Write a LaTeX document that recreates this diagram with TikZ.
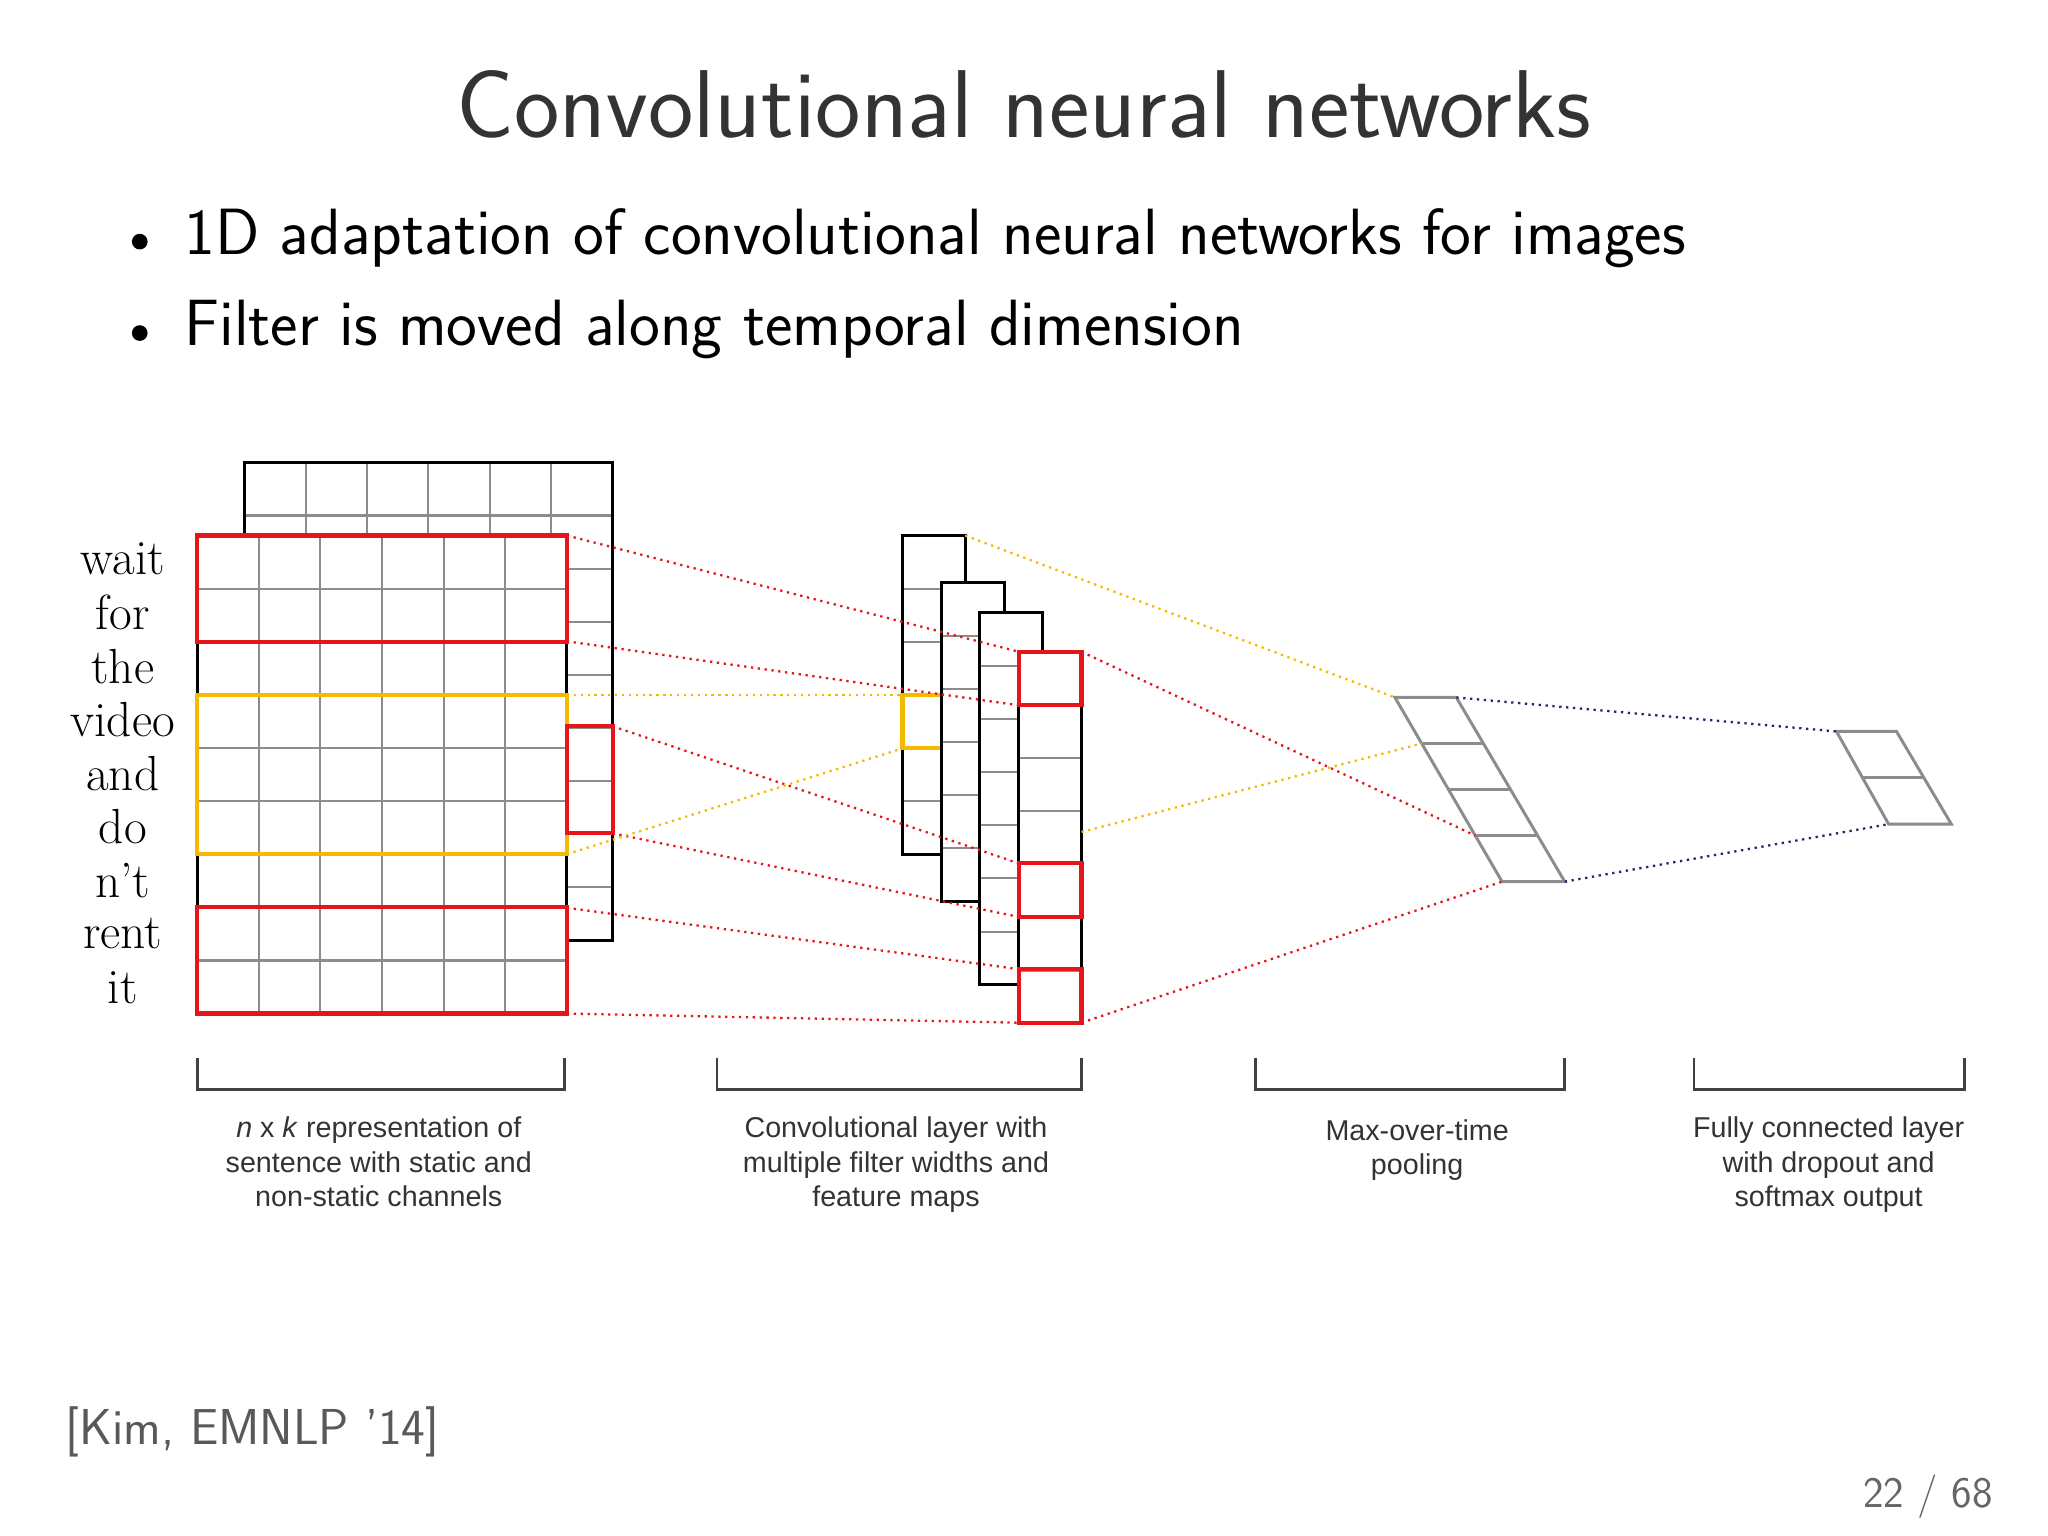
\documentclass[tikz,border=0pt]{standalone}
\usepackage{fontspec}
\newfontfamily\capfont{Liberation Sans}
\usetikzlibrary{calc}
\definecolor{cred}{HTML}{E8141C}
\definecolor{cyel}{HTML}{F5BA00}
\definecolor{cgrid}{HTML}{8C8C8C}
\definecolor{cblue}{HTML}{1A2A6C}
\begin{document}
\begin{tikzpicture}[x=0.02cm,y=-0.02cm,
  gridl/.style={cgrid,line width=0.9pt},
  outer/.style={black,line width=1.3pt},
  redb/.style={cred,line width=1.8pt},
  yelb/.style={cyel,line width=1.8pt},
  rdot/.style={cred,dotted,line width=1pt},
  ydot/.style={cyel,dotted,line width=1pt},
  bdot/.style={cblue,dotted,line width=1pt},
  word/.style={font=\fontsize{21.5}{21.5}\selectfont\rmfamily,anchor=center},
  captext/.style={font=\fontsize{12.5}{15}\selectfont\capfont,align=center,text=black!80,anchor=north},
  brk/.style={black!75,line width=1.2pt}]
\useasboundingbox (0,0) rectangle (1568,1176);
% title and bullets
\node (title) [font=\fontsize{42}{42}\selectfont\sffamily,text=black!80] at (784,80) {Convolutional neural networks};
\fill (107,185) circle (6);
\fill (107,255) circle (6);
\node (b1) [font=\fontsize{28.5}{28.5}\selectfont\sffamily,anchor=west] at (135,182) {1D adaptation of convolutional neural networks for images};
\node (b2) [font=\fontsize{28.5}{28.5}\selectfont\sffamily,anchor=west] at (135,252) {Filter is moved along temporal dimension};
% back grid
\foreach \i in {0,...,9} \draw[gridl] (187,{354+\i*40.67}) -- (469,{354+\i*40.67});
\foreach \j in {1,...,5} \draw[gridl] ({187+\j*47},354) -- ({187+\j*47},410);
\draw[outer] (187,410) -- (187,354) -- (469,354) -- (469,720) -- (434,720);
% front grid
\fill[white] (151,410) rectangle (434,776);
\foreach \i in {1,...,8} \draw[gridl] (151,{410+\i*40.67}) -- (434,{410+\i*40.67});
\foreach \j in {1,...,5} \draw[gridl] ({151+\j*47.17},410) -- ({151+\j*47.17},776);
\draw[outer] (151,410) rectangle (434,776);
\draw[redb] (151,410) rectangle (434,491.3);
\draw[redb] (151,694.7) rectangle (434,776);
\draw[yelb] (151,532) rectangle (434,654);
\draw[redb] (434,556) rectangle (469,638);
% words
\foreach \w [count=\k from 0] in {wait,for,the,video,and,do,n't,rent,it}
  \node (w\k) [word] at (94,{428+\k*41}) {\w};
% feature maps
\def\fmap#1#2#3#4{\fill[white] (#1,#2) rectangle ({#1+48},{#2+#3*40.7});
  \foreach \i in {1,...,#4} \draw[gridl] (#1,{#2+\i*40.7}) -- ({#1+48},{#2+\i*40.7});
  \draw[outer] (#1,#2) rectangle ({#1+48},{#2+#3*40.7});}
\fmap{691}{410}{6}{5}
\draw[yelb] (691,532) rectangle (721,573);
\fmap{721}{446}{6}{5}
\fmap{750}{469}{7}{6}
\fmap{780}{499}{7}{6}
\draw[redb] (780,499) rectangle (828,540);
\draw[redb] (780,661) rectangle (828,702);
\draw[redb] (780,742) rectangle (828,783);
% dotted connectors
\coordinate (a1) at (434,410); \coordinate (a2) at (434,491);
\coordinate (a3) at (469,556); \coordinate (a4) at (469,638);
\coordinate (a5) at (434,695); \coordinate (a6) at (434,776);
\coordinate (y1) at (434,532); \coordinate (y2) at (434,654);
\coordinate (m1) at (780,499); \coordinate (m2) at (780,540);
\coordinate (m3) at (780,661); \coordinate (m4) at (780,702);
\coordinate (m5) at (780,742); \coordinate (m6) at (780,783);
\coordinate (n1) at (691,532); \coordinate (n2) at (691,573);
\draw[rdot] (a1) -- (m1); \draw[rdot] (a2) -- (m2);
\draw[rdot] (a3) -- (m3); \draw[rdot] (a4) -- (m4);
\draw[rdot] (a5) -- (m5); \draw[rdot] (a6) -- (m6);
\draw[ydot] (y1) -- (n1); \draw[ydot] (y2) -- (n2);
% pooling
\coordinate (p1) at (1068,534); \coordinate (p2) at (1115,534);
\coordinate (p3) at (1198,675); \coordinate (p4) at (1150,675);
\draw[cgrid,line width=1.3pt] (p1) -- (p2) -- (p3) -- (p4) -- cycle;
\foreach \t in {0.25,0.5,0.75} \draw[cgrid,line width=1.3pt] ($(p1)!\t!(p4)$) -- ($(p2)!\t!(p3)$);
\coordinate (q2) at ($(p1)!0.25!(p4)$); \coordinate (q3) at ($(p1)!0.75!(p4)$);
\coordinate (f1) at (739,410); \coordinate (f2) at (828,637);
\coordinate (r1) at (828,499); \coordinate (r2) at (828,783);
\draw[ydot] (f1) -- (p1); \draw[ydot] (f2) -- (q2);
\draw[rdot] (r1) -- (q3); \draw[rdot] (r2) -- (p4);
% fully connected
\coordinate (c1) at (1406,560); \coordinate (c2) at (1452,560);
\coordinate (c3) at (1494,631); \coordinate (c4) at (1446,631);
\draw[cgrid,line width=1.3pt] (c1) -- (c2) -- (c3) -- (c4) -- cycle;
\draw[cgrid,line width=1.3pt] ($(c1)!0.5!(c4)$) -- ($(c2)!0.5!(c3)$);
\draw[bdot] (p2) -- (c1); \draw[bdot] (p3) -- (c4);
% brackets
\foreach \l/\r in {151/432,549/828,961/1198,1297/1504}
  \draw[brk] (\l,810) -- (\l,834) -- (\r,834) -- (\r,810);
\node (k1) [captext] at (290,849) {\textit{n} x \textit{k} representation of\\sentence with static and\\non-static channels};
\node (k2) [captext] at (686,849) {Convolutional layer with\\multiple filter widths and\\feature maps};
\node (k3) [captext] at (1085,851) {Max-over-time\\pooling};
\node (k4) [captext] at (1400,849) {Fully connected layer\\with dropout and\\softmax output};
% footer
\node (cite) [font=\fontsize{22}{22}\selectfont\sffamily,text=black!65,anchor=west] at (44,1096) {[Kim, EMNLP '14]};
\node (page) [font=\fontsize{19}{19}\selectfont\sffamily,text=black!60,anchor=east] at (1532,1146) {22 / 68};
\end{tikzpicture}
\end{document}
